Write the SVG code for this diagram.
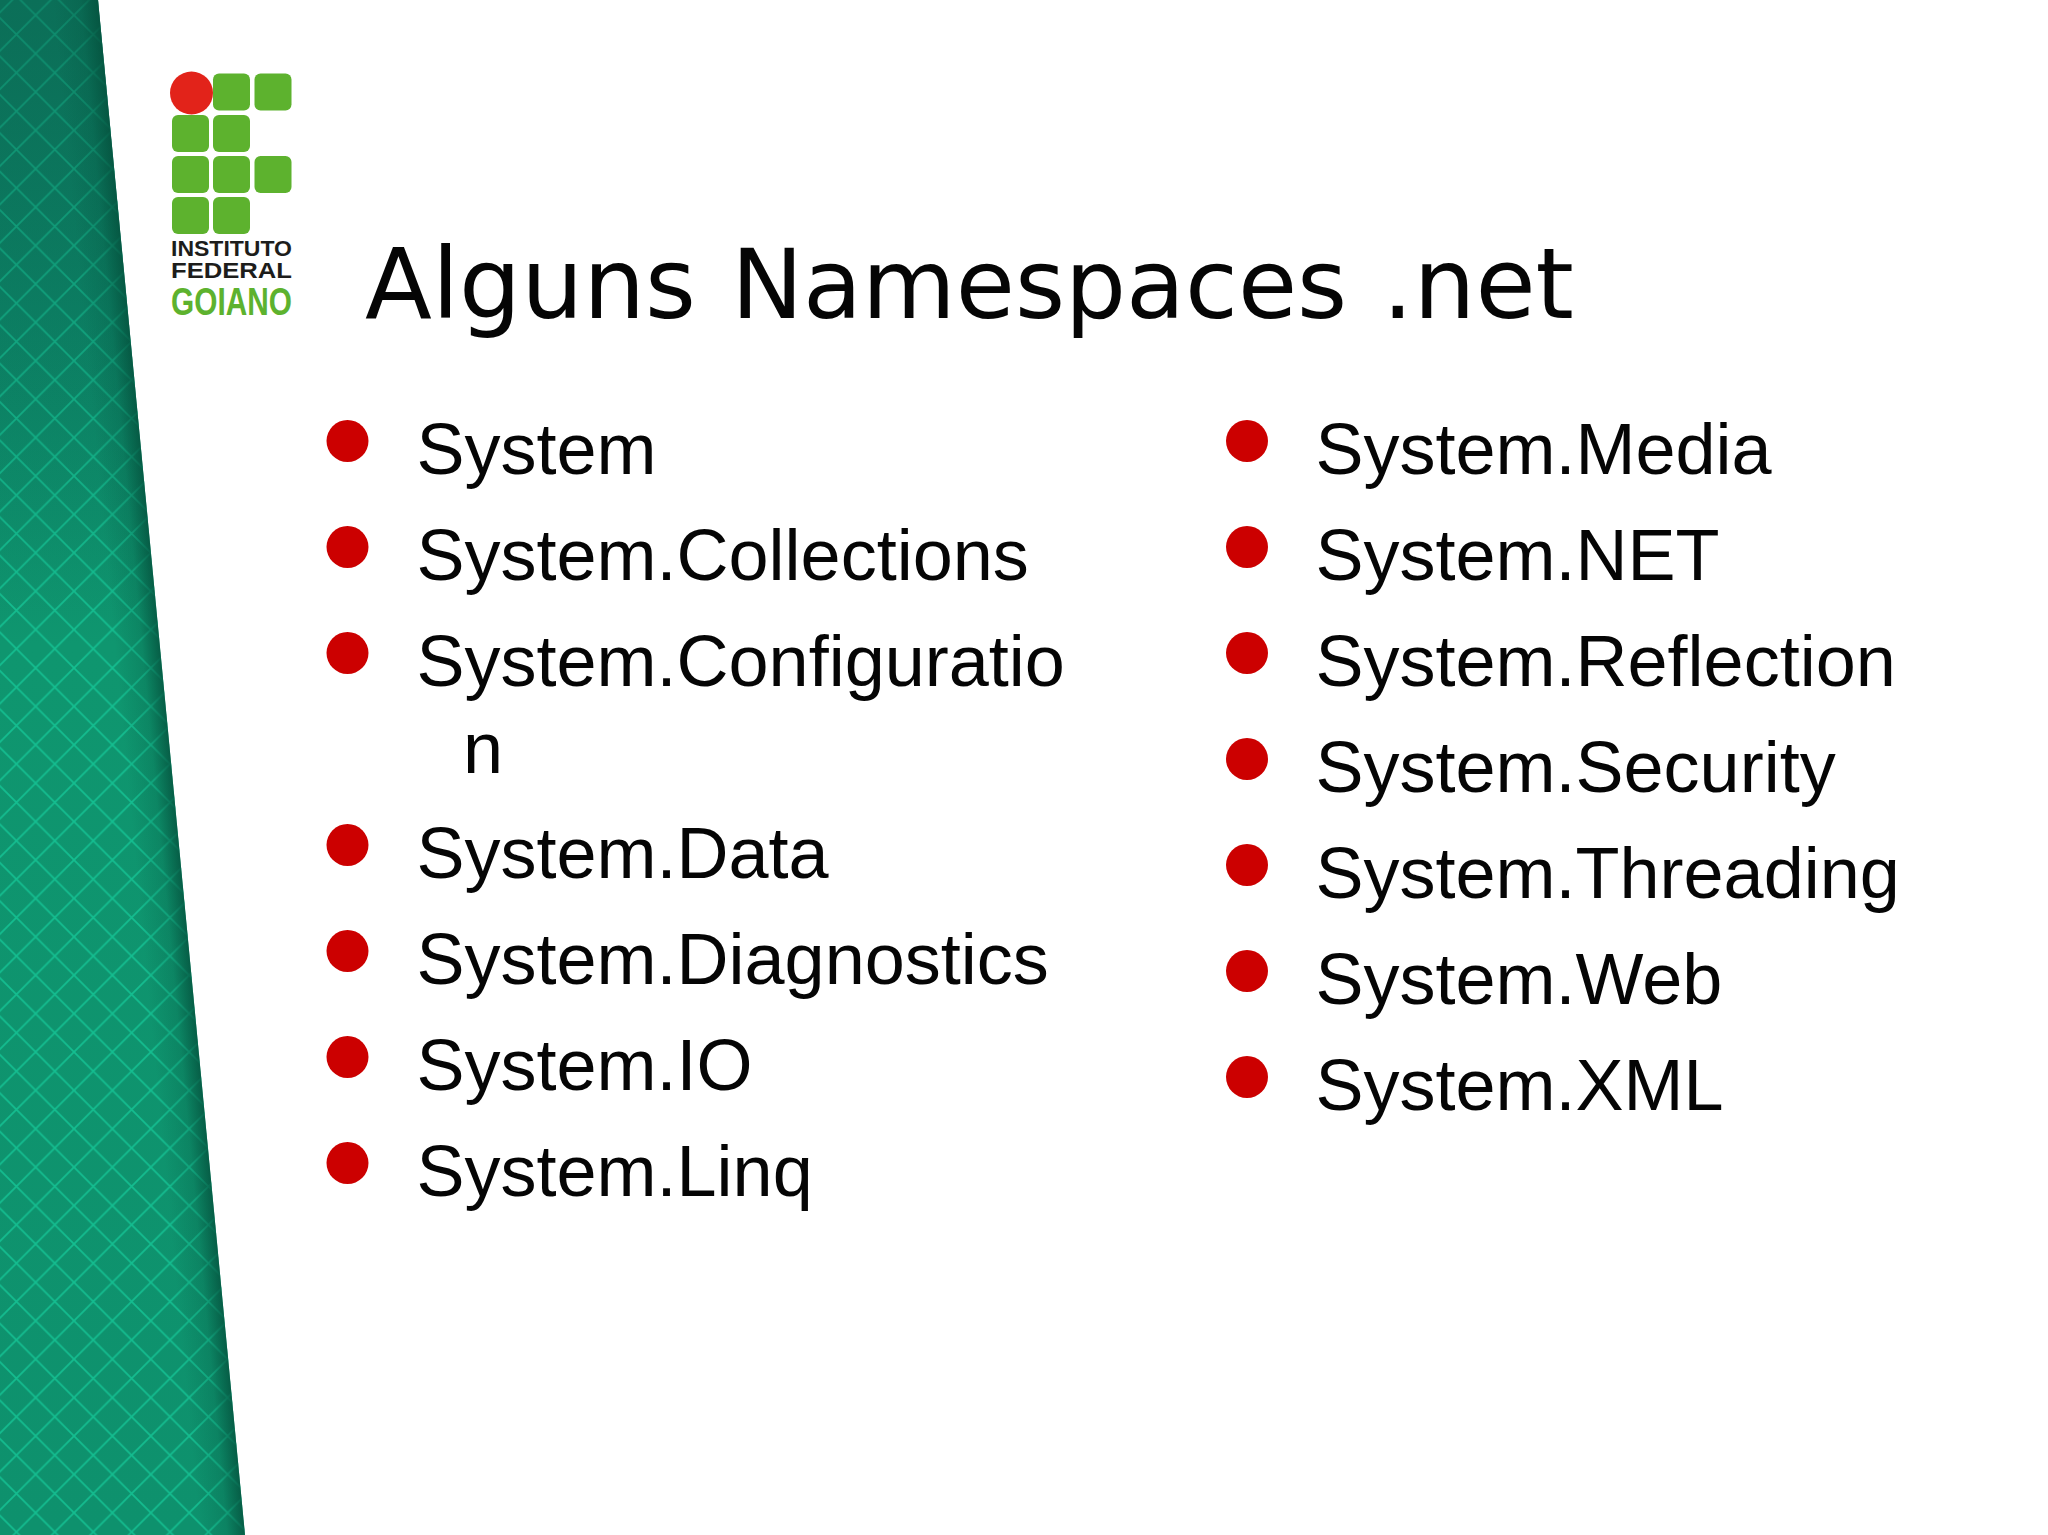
<svg xmlns="http://www.w3.org/2000/svg" width="2048" height="1535" viewBox="0 0 2048 1535">
<style>
.t{font-family:"Liberation Sans",Arial,sans-serif;font-size:72px;fill:#050505}
.title{font-family:"DejaVu Sans",sans-serif;font-size:97.800px;fill:#050505}
.b{fill:#cc0000}
.sq{fill:#5db22e}
.lg{font-family:"Liberation Sans",Arial,sans-serif;font-weight:700;fill:#1d1d1b}
</style>
<defs>
<linearGradient id="bg" gradientUnits="userSpaceOnUse" x1="0" y1="0" x2="0" y2="1535">
<stop offset="0" stop-color="#0b6f58"/><stop offset="0.2" stop-color="#0c8265"/><stop offset="0.42" stop-color="#0f966f"/><stop offset="1" stop-color="#0e916d"/>
</linearGradient>
<linearGradient id="fade" gradientUnits="userSpaceOnUse" x1="0" y1="0" x2="0" y2="620">
<stop offset="0" stop-color="#0b6f58" stop-opacity="0.6"/><stop offset="1" stop-color="#0b6f58" stop-opacity="0"/>
</linearGradient>
<linearGradient id="shade" gradientUnits="userSpaceOnUse" x1="53.200" y1="4.300" x2="98" y2="0">
<stop offset="0" stop-color="#04503c" stop-opacity="0"/><stop offset="0.6" stop-color="#04503c" stop-opacity="0.22"/><stop offset="1" stop-color="#04503c" stop-opacity="0.8"/>
</linearGradient>
<pattern id="grid" width="38.400" height="38.400" patternUnits="userSpaceOnUse" x="35.600" y="15.200">
<path d="M0 0L38.400 38.400M38.400 0L0 38.400" stroke="#17cf9f" stroke-width="1.700" fill="none" stroke-opacity="0.7"/>
</pattern>
</defs>
<rect width="2048" height="1535" fill="#ffffff"/>
<g id="sidebar">
<polygon points="0,0 98,0 245,1535 0,1535" fill="url(#bg)"/>
<polygon points="0,0 98,0 245,1535 0,1535" fill="url(#grid)"/>
<polygon points="0,0 98,0 245,1535 0,1535" fill="url(#fade)"/>
<polygon points="0,0 98,0 245,1535 0,1535" fill="url(#shade)"/>
</g>
<g id="logo">
<rect class="sq" x="213" y="73.500" width="37" height="37" rx="6"/>
<rect class="sq" x="254.500" y="73.500" width="37" height="37" rx="6"/>
<rect class="sq" x="172" y="115" width="37" height="37" rx="6"/>
<rect class="sq" x="213" y="115" width="37" height="37" rx="6"/>
<rect class="sq" x="172" y="156" width="37" height="37" rx="6"/>
<rect class="sq" x="213" y="156" width="37" height="37" rx="6"/>
<rect class="sq" x="254.500" y="156" width="37" height="37" rx="6"/>
<rect class="sq" x="172" y="197" width="37" height="37" rx="6"/>
<rect class="sq" x="213" y="197" width="37" height="37" rx="6"/>
<circle cx="191.500" cy="93" r="21.500" fill="#e2231a"/>
<text class="lg" x="171" y="256" font-size="22" textLength="121" lengthAdjust="spacingAndGlyphs">INSTITUTO</text>
<text class="lg" x="171" y="278" font-size="22" textLength="121" lengthAdjust="spacingAndGlyphs">FEDERAL</text>
<text class="lg" x="171" y="315" font-size="39" textLength="121" lengthAdjust="spacingAndGlyphs" style="fill:#5db22e">GOIANO</text>
</g>
<text id="title" class="title" x="365" y="318">Alguns <tspan dx="4" font-size="96.200">Namespaces</tspan> <tspan dx="4">.net</tspan></text>
<g id="left-list">
<circle class="b" cx="347.500" cy="441" r="21"/><text class="t" x="416.500" y="474">System</text>
<circle class="b" cx="347.500" cy="547" r="21"/><text class="t" x="416.500" y="580">System.Collections</text>
<circle class="b" cx="347.500" cy="653" r="21"/><text class="t" x="416.500" y="686">System.Configuratio</text>
<text class="t" x="463" y="773">n</text>
<circle class="b" cx="347.500" cy="845" r="21"/><text class="t" x="416.500" y="878">System.Data</text>
<circle class="b" cx="347.500" cy="951" r="21"/><text class="t" x="416.500" y="984">System.Diagnostics</text>
<circle class="b" cx="347.500" cy="1057" r="21"/><text class="t" x="416.500" y="1090">System.IO</text>
<circle class="b" cx="347.500" cy="1163" r="21"/><text class="t" x="416.500" y="1196">System.Linq</text>
</g>
<g id="right-list">
<circle class="b" cx="1247" cy="441" r="21"/><text class="t" x="1315.500" y="474">System.Media</text>
<circle class="b" cx="1247" cy="547" r="21"/><text class="t" x="1315.500" y="580">System.NET</text>
<circle class="b" cx="1247" cy="653" r="21"/><text class="t" x="1315.500" y="686">System.Reflection</text>
<circle class="b" cx="1247" cy="759" r="21"/><text class="t" x="1315.500" y="792">System.Security</text>
<circle class="b" cx="1247" cy="865" r="21"/><text class="t" x="1315.500" y="898">System.Threading</text>
<circle class="b" cx="1247" cy="971" r="21"/><text class="t" x="1315.500" y="1004">System.Web</text>
<circle class="b" cx="1247" cy="1077" r="21"/><text class="t" x="1315.500" y="1110">System.XML</text>
</g>
</svg>
